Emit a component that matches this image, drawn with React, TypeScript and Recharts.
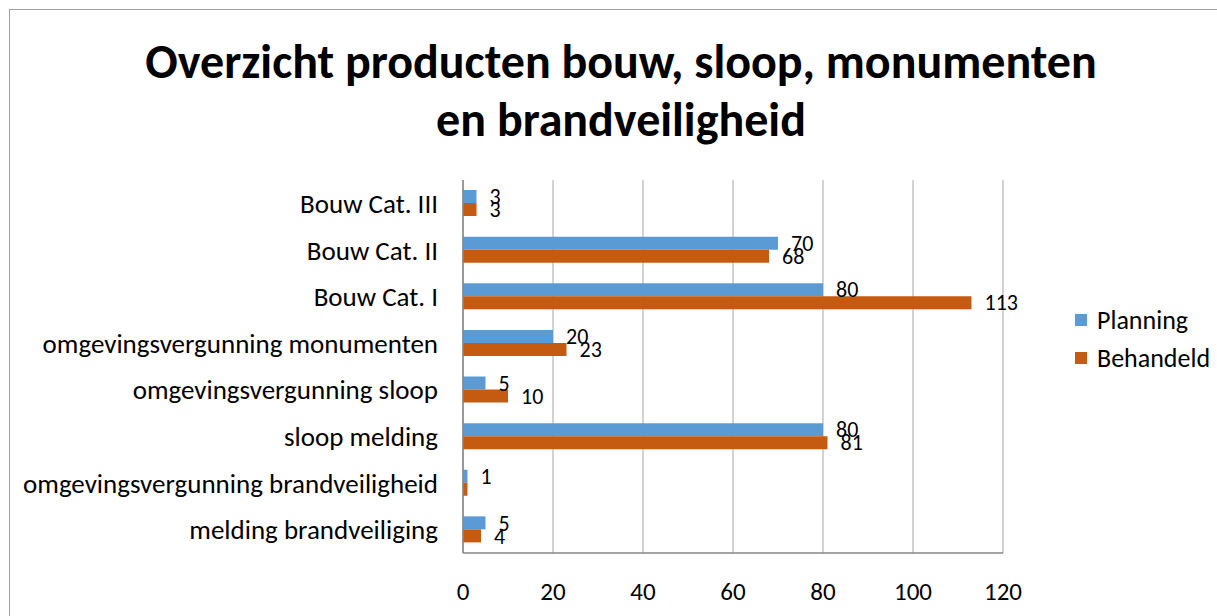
import React from "react";
import { BarChart, Bar, XAxis, YAxis, CartesianGrid, LabelList } from "recharts";

const categories = [
  "Bouw Cat. III",
  "Bouw Cat. II",
  "Bouw Cat. I",
  "omgevingsvergunning monumenten",
  "omgevingsvergunning sloop",
  "sloop melding",
  "omgevingsvergunning brandveiligheid",
  "melding brandveiliging",
];
const planning = [3, 70, 80, 20, 5, 80, 1, 5];
const behandeld = [3, 68, 113, 23, 10, 81, 1, 4];
const hiddenBehandeldLabels = ["omgevingsvergunning brandveiligheid"];
const xTicks = [0, 20, 40, 60, 80, 100, 120];
const seriesNames = ["Planning", "Behandeld"];

const BLUE = "#5b9bd5";
const ORANGE = "#c55a11";
const FONT = "Carlito, Lato, 'Open Sans', sans-serif";

const data = categories.map((c, i) => ({ name: c, Planning: planning[i], Behandeld: behandeld[i] }));

const makeLabel = (hidden: string[]) => (props: any) => {
  const { x, y, width, height, value, index } = props;
  if (hidden.includes(categories[index])) return null;
  return (
    <text
      x={x + width + 13}
      y={y + height / 2}
      dy="0.35em"
      fontSize={22}
      fontFamily={FONT}
      fill="#000"
      textAnchor="start"
    >
      {value}
    </text>
  );
};

export default function App() {
  const colors = [BLUE, ORANGE];
  return (
    <div
      style={{
        position: "absolute",
        left: 9,
        top: 9,
        width: 1208,
        height: 607,
        borderLeft: "1px solid #a0a0a0",
        borderTop: "1px solid #a0a0a0",
        boxSizing: "border-box",
        background: "#fff",
        overflow: "hidden",
      }}
    >
      <div
        style={{
          position: "absolute",
          left: 0,
          top: 23,
          width: 1222,
          textAlign: "center",
          fontFamily: FONT,
          fontWeight: 700,
          fontSize: 48,
          lineHeight: "58px",
          color: "#000",
          whiteSpace: "nowrap",
        }}
      >
        Overzicht producten bouw, sloop, monumenten
        <br />
        en brandveiligheid
      </div>
      <div style={{ position: "absolute", left: 0, top: 0 }}>
        <BarChart
          width={1207}
          height={606}
          data={data}
          layout="vertical"
          margin={{ top: 170, right: 214, bottom: 18, left: 0 }}
          barGap={0}
        >
          <CartesianGrid horizontal={false} vertical={true} stroke="#a6a6a6" strokeWidth={1} />
          <XAxis
            type="number"
            domain={[0, 120]}
            ticks={xTicks}
            height={45}
            tickSize={0}
            tickMargin={29}
            axisLine={{ stroke: "#868686", strokeWidth: 1.5 }}
            tickLine={false}
            tick={{ fontSize: 25, fontFamily: FONT, fill: "#000" }}
            interval={0}
          />
          <YAxis
            type="category"
            dataKey="name"
            width={453}
            tickSize={0}
            tickMargin={25}
            axisLine={{ stroke: "#868686", strokeWidth: 1.5 }}
            tickLine={false}
            tick={{ fontSize: 27, fontFamily: FONT, fill: "#000" }}
            interval={0}
          />
          <Bar dataKey="Planning" fill={BLUE} barSize={13} isAnimationActive={false}>
            <LabelList dataKey="Planning" content={makeLabel([])} />
          </Bar>
          <Bar dataKey="Behandeld" fill={ORANGE} barSize={13} isAnimationActive={false}>
            <LabelList dataKey="Behandeld" content={makeLabel(hiddenBehandeldLabels)} />
          </Bar>
        </BarChart>
      </div>
      <div
        style={{
          position: "absolute",
          left: 1065,
          top: 291,
          fontFamily: FONT,
          fontSize: 26,
          color: "#000",
        }}
      >
        {seriesNames.map((n, i) => (
          <div key={n} style={{ display: "flex", alignItems: "center", height: 38 }}>
            <span
              style={{ width: 12, height: 12, background: colors[i], display: "inline-block", marginRight: 10 }}
            />
            <span>{n}</span>
          </div>
        ))}
      </div>
    </div>
  );
}
